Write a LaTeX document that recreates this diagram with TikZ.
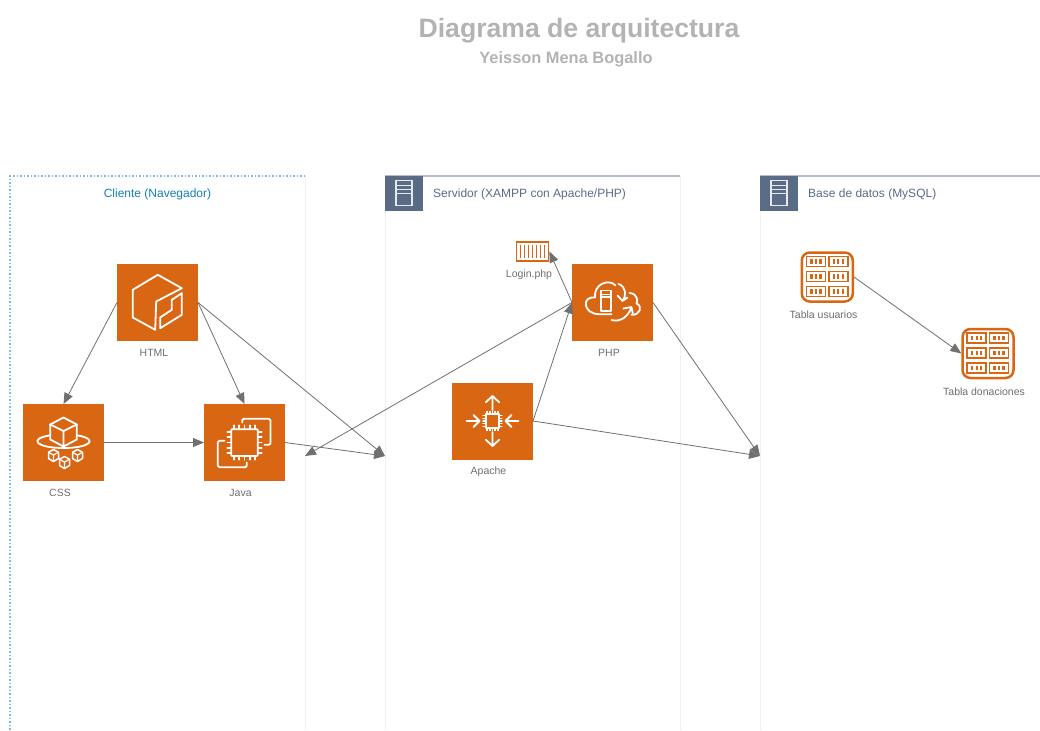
\documentclass[tikz,border=0pt]{standalone}
\usepackage{fontspec}
\setmainfont{Liberation Sans}
\usetikzlibrary{arrows.meta}

\definecolor{awsorange}{HTML}{D86613}
\definecolor{hdrblue}{HTML}{5A6B86}
\definecolor{hdrline}{HTML}{B4BDCB}
\definecolor{sideline}{HTML}{EEF0F3}
\definecolor{cliblue}{HTML}{147EBA}
\definecolor{clidots}{HTML}{7FBBDD}
\definecolor{txtgray}{HTML}{6E6E6E}
\definecolor{titlegray}{HTML}{B3B3B3}
\definecolor{edgegray}{HTML}{707070}

\tikzset{
  awsbox/.style={fill=awsorange, draw=none, minimum width=81pt, minimum height=77pt, inner sep=0pt, outer sep=0pt},
  tblbox/.style={fill=white, draw=awsorange, line width=2.5pt, rounded corners=8pt, minimum width=51pt, minimum height=49pt, inner sep=0pt, outer sep=1.2pt},
  logbox/.style={fill=white, draw=awsorange, line width=1.8pt, minimum width=32pt, minimum height=19pt, inner sep=0pt, outer sep=.9pt},
  whiteline/.style={draw=white, line width=1.8pt, line join=round, line cap=round},
  headtxt/.style={font=\fontsize{12}{15}\selectfont, inner sep=0pt},
}

\newcommand{\tinycube}[2]{
  \begin{scope}[shift={(#1,#2)}]
    \draw[whiteline, line width=1.5pt] (0,-6) -- (5,-3.2) -- (5,3) -- (0,6) -- (-5,3) -- (-5,-3.2) -- cycle;
    \draw[whiteline, line width=1.2pt] (-5,-3.2) -- (0,-.4) -- (5,-3.2) (0,-.4) -- (0,6);
  \end{scope}
}
\newcommand{\tblcell}[2]{
  \begin{scope}[shift={(#1,#2)}]
    \draw[awsorange, line width=1.8pt] (-9.5,-5) rectangle (9.5,5);
    \foreach \dx in {-4.5,0,4.5} {
      \fill[awsorange] (\dx-1.1,-2.2) rectangle (\dx+1.1,2.2);
    }
  \end{scope}
}
\newcommand{\tblicon}[2]{
  \begin{scope}[shift={(#1,#2)}]
    \foreach \cx in {-11.3,11} {
      \foreach \cy in {-15.5,-.5,14.5} {
        \tblcell{\cx}{\cy}
      }
    }
  \end{scope}
}
\newcommand{\chippins}[2]{
  \foreach \p in {-.8,-.4,0,.4,.8} {
    \draw[whiteline, line width=1.4pt] (\p*#1,-#1-#2) -- (\p*#1,-#1) (\p*#1,#1) -- (\p*#1,#1+#2);
    \draw[whiteline, line width=1.4pt] (-#1-#2,\p*#1) -- (-#1,\p*#1) (#1,\p*#1) -- (#1+#2,\p*#1);
  }
}
\newcommand{\hdricon}[1]{
  \fill[hdrblue] (#1,176) rectangle (#1+38,211);
  \begin{scope}[shift={(#1,176)}]
    \draw[white!85!hdrblue, line width=1.2pt] (11,4.5) rectangle (27,29.5);
    \draw[white!85!hdrblue, line width=1pt] (11,9) -- (27,9) (11,13) -- (27,13) (11,17) -- (27,17);
  \end{scope}
}

\begin{document}
\begin{tikzpicture}[x=1pt,y=-1pt]
  \useasboundingbox (0,0) rectangle (1040,730);

  \node[font=\bfseries\fontsize{26.6}{32}\selectfont, text=titlegray] (title) at (579,30.5) {Diagrama de arquitectura};
  \node[font=\bfseries\fontsize{16.4}{19}\selectfont, text=titlegray] (author) at (566,59) {Yeisson Mena Bogallo};

  % containers
  \draw[sideline] (305,176) -- (305,730);
  \draw[clidots, line width=1.3pt, dash pattern=on 1.5pt off 2pt] (305,176) -- (10,176) -- (10,730);
  \draw[sideline] (385,176) -- (385,730) (680,176) -- (680,730);
  \draw[hdrline, line width=1.5pt] (385,176) -- (680,176);
  \hdricon{385}
  \draw[sideline] (760,176) -- (760,730);
  \draw[hdrline, line width=1.5pt] (760,176) -- (1040,176);
  \hdricon{760}

  \node[headtxt, text=cliblue] (clititle) at (157.5,194) {Cliente (Navegador)};
  \node[headtxt, text=hdrblue, anchor=west] (srvtitle) at (433,194) {Servidor (XAMPP con Apache/PHP)};
  \node[headtxt, text=hdrblue, anchor=west] (dbtitle) at (808,194) {Base de datos (MySQL)};

  \coordinate (cliedge) at (305,456);
  \coordinate (srvedge) at (385,456);
  \coordinate (dbedge) at (760,456);

  \begin{scope}[every node/.style={awsbox}]
    \node (html) at (157.5,302.5) {};
    \node (css) at (63.5,442.5) {};
    \node (java) at (244.5,442.5) {};
    \node (php) at (612.5,302.5) {};
    \node (apache) at (492.5,421) {};
  \end{scope}
  \node[tblbox] (usuarios) at (827.3,277) {};
  \node[tblbox] (donaciones) at (988,353.5) {};
  \node[logbox] (login) at (532.5,251.5) {};

  \begin{scope}[every node/.style={font=\fontsize{10.5}{12}\selectfont, text=txtgray, inner sep=0pt}]
    \node (lblhtml) at (154,353) {HTML};
    \node (lblcss) at (60,493) {CSS};
    \node (lbljava) at (240.5,493) {Java};
    \node (lbllogin) at (529,274.5) {Login.php};
    \node (lblphp) at (609,353) {PHP};
    \node (lblapache) at (488.5,471.5) {Apache};
    \node (lblusuarios) at (823.5,315) {Tabla usuarios};
    \node (lbldonaciones) at (984,392) {Tabla donaciones};
  \end{scope}

  % html icon
  \begin{scope}[shift={(157.5,302.5)}]
    \draw[whiteline] (24.3,-14.3) -- (.3,-27.7) -- (-24.7,-12.7) -- (-24.7,15) -- (-2.3,27.3) -- (-1.3,-1) -- cycle;
    \draw[whiteline] (24.3,-9.3) -- (24.3,12.3) -- (2.7,25.7) -- (2.7,15) -- (14.3,7.3) -- (14.3,-2.7) -- cycle;
  \end{scope}

  % css icon
  \begin{scope}[shift={(63.5,442.5)}]
    \draw[whiteline] (0,-25) -- (13.3,-18) -- (13.3,-3) -- (0,4) -- (-13.3,-3) -- (-13.3,-18) -- cycle;
    \draw[whiteline] (-13.3,-18) -- (0,-11.5) -- (13.3,-18) (0,-11.5) -- (0,4);
    \draw[whiteline] (-14.5,-7) .. controls (-36,-3) and (-26,5.5) .. (0,5.5) .. controls (26,5.5) and (36,-3) .. (14.5,-7);
    \tinycube{-10}{13}
    \tinycube{1}{20}
    \tinycube{14}{13}
  \end{scope}

  % java icon
  \begin{scope}[shift={(244.5,442.5)}]
    \draw[whiteline, rounded corners=1pt] (-13.3,-13.3) rectangle (13.3,13.5);
    \chippins{13.3}{4}
    \draw[whiteline, rounded corners=1.5pt] (-2.3,-20) -- (-2.3,-23.7) -- (26,-23.7) -- (26,2.3) -- (20,2.3);
    \draw[whiteline, rounded corners=1.5pt] (-20,-1.7) -- (-26.7,-1.7) -- (-26.7,24.7) -- (2.3,24.7) -- (2.3,20);
  \end{scope}

  % apache icon
  \begin{scope}[shift={(492.5,421)}]
    \draw[whiteline] (-6.7,-6.7) rectangle (6.7,6.7);
    \chippins{6.7}{2.8}
    \draw[whiteline] (0,-11) -- (0,-25) (-6.7,-18.7) -- (0,-25) -- (6.7,-18.7);
    \draw[whiteline] (0,11) -- (0,25) (-6.7,18.7) -- (0,25) -- (6.7,18.7);
    \draw[whiteline] (-26,0) -- (-13,0) (-19,-6) -- (-13,0) -- (-19,6);
    \draw[whiteline] (26,0) -- (13,0) (19,-6) -- (13,0) -- (19,6);
  \end{scope}

  % php icon
  \begin{scope}[shift={(612.5,302.5)}]
    \draw[whiteline] (-1,11.7) -- (-12.7,11.7) .. controls (-30,12) and (-31,-7) .. (-17.5,-5)
      .. controls (-19,-19) and (-3,-24) .. (3,-17);
    \draw[whiteline] (17,-9.5) .. controls (26,-9) and (25,0) .. (24,1)
      .. controls (31,4) and (27,13) .. (19,12.3);
    \draw[whiteline] (-11.7,-12) rectangle (-1.7,8.3);
    \draw[whiteline, line width=1.1pt] (-11.7,-8) -- (-1.7,-8) (-11.7,-5.5) -- (-1.7,-5.5);
    \draw[whiteline] (6,-18.5) .. controls (14,-16) and (14,-6) .. (10,-1.5) (5,-7) -- (10,-1.5) -- (15,-5);
    \draw[whiteline] (-1,17.5) .. controls (8,20) and (16,14) .. (19,4.5) (11,6) -- (19,4.5) -- (20.5,12);
  \end{scope}

  \tblicon{827.3}{277}
  \tblicon{988}{353.5}

  % login icon
  \foreach \bx in {-12,-8,-4,0,4,8,12} {
    \fill[awsorange] (532.5+\bx-.9,245) rectangle (532.5+\bx+.9,258);
  }

  \begin{scope}[every edge/.style={draw=edgegray, line width=.8pt, -{Triangle[length=11pt,width=9pt]}}]
    \path (html.west) edge (css.north);
    \path (html.east) edge (java.north);
    \path (html.east) edge (srvedge);
    \path (css.east) edge (java.west);
    \path (java.east) edge (srvedge);
    \path (php.west) edge (login.east);
    \path (php.west) edge (cliedge);
    \path (apache.east) edge (php.west);
    \path (apache.east) edge (dbedge);
    \path (php.east) edge (dbedge);
    \path (usuarios.east) edge (donaciones.west);
  \end{scope}

\end{tikzpicture}
\end{document}
